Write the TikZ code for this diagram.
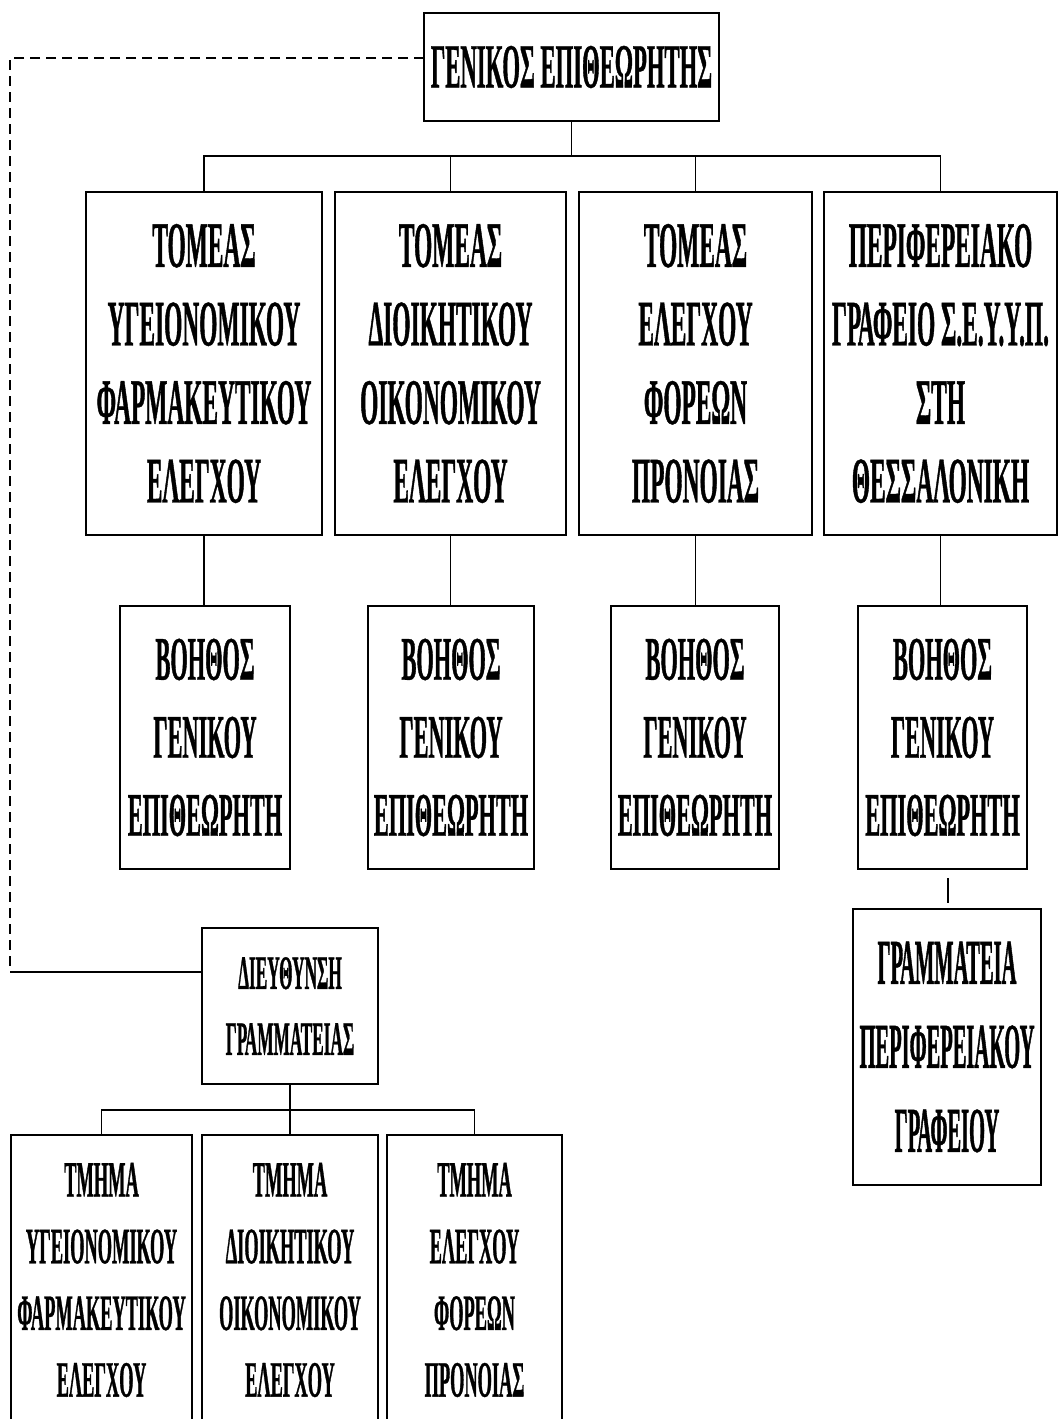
\documentclass[tikz,border=0pt]{standalone}
\usepackage{fontspec}
\newfontfamily\gfA{Liberation Serif}[UprightFont=* Bold, FakeStretch=0.36, FakeBold=0.6]
\newfontfamily\gfB{Liberation Serif}[UprightFont=* Bold, FakeStretch=0.32, FakeBold=0.6]
\begin{document}
\begin{tikzpicture}[x=1pt,y=-1pt,
  box/.style={draw, line width=1.6pt, inner sep=0pt, align=center, fill=white},
  conn/.style={line width=1.6pt},
  dashline/.style={line width=2.5pt, dash pattern=on 10pt off 6pt},
  toptext/.style={font=\gfA\fontsize{63}{75}\selectfont},
  secttext/.style={font=\gfA\fontsize{65}{78.5}\selectfont},
  deptext/.style={font=\gfA\fontsize{62}{78}\selectfont},
  grtext/.style={font=\gfB\fontsize{64}{84}\selectfont},
  dirtext/.style={font=\gfA\fontsize{48}{66}\selectfont},
  tmtext/.style={font=\gfA\fontsize{51}{66.7}\selectfont}
]
\useasboundingbox (0,0) rectangle (1059,1419);
\clip (0,0) rectangle (1059,1419);
\fill[white] (0,0) rectangle (1059,1419);

% top
\node[box, toptext, minimum width=295pt, minimum height=108pt] (top) at (571.5,67) {ΓΕΝΙΚΟΣ ΕΠΙΘΕΩΡΗΤΗΣ};

% level 2
\node[box, secttext, minimum width=236pt, minimum height=343pt] (b1) at (204,363.5) {ΤΟΜΕΑΣ\\ΥΓΕΙΟΝΟΜΙΚΟΥ\\ΦΑΡΜΑΚΕΥΤΙΚΟΥ\\ΕΛΕΓΧΟΥ};
\node[box, secttext, minimum width=231pt, minimum height=343pt] (b2) at (450.5,363.5) {ΤΟΜΕΑΣ\\ΔΙΟΙΚΗΤΙΚΟΥ\\ΟΙΚΟΝΟΜΙΚΟΥ\\ΕΛΕΓΧΟΥ};
\node[box, secttext, minimum width=233pt, minimum height=343pt] (b3) at (695.5,363.5) {ΤΟΜΕΑΣ\\ΕΛΕΓΧΟΥ\\ΦΟΡΕΩΝ\\ΠΡΟΝΟΙΑΣ};
\node[box, secttext, minimum width=233pt, minimum height=343pt] (b4) at (940.5,363.5) {ΠΕΡΙΦΕΡΕΙΑΚΟ\\ΓΡΑΦΕΙΟ Σ.Ε.Υ.Υ.Π.\\ΣΤΗ\\ΘΕΣΣΑΛΟΝΙΚΗ};

% level 3
\node[box, deptext, minimum width=170pt, minimum height=263pt] (c1) at (205,737.5) {ΒΟΗΘΟΣ\\ΓΕΝΙΚΟΥ\\ΕΠΙΘΕΩΡΗΤΗ};
\node[box, deptext, minimum width=166pt, minimum height=263pt] (c2) at (451,737.5) {ΒΟΗΘΟΣ\\ΓΕΝΙΚΟΥ\\ΕΠΙΘΕΩΡΗΤΗ};
\node[box, deptext, minimum width=168pt, minimum height=263pt] (c3) at (695,737.5) {ΒΟΗΘΟΣ\\ΓΕΝΙΚΟΥ\\ΕΠΙΘΕΩΡΗΤΗ};
\node[box, deptext, minimum width=169pt, minimum height=263pt] (c4) at (942.5,737.5) {ΒΟΗΘΟΣ\\ΓΕΝΙΚΟΥ\\ΕΠΙΘΕΩΡΗΤΗ};

% regional secretariat
\node[box, grtext, line width=1.2pt, minimum width=188pt, minimum height=276pt] (g) at (947,1047) {ΓΡΑΜΜΑΤΕΙΑ\\ΠΕΡΙΦΕΡΕΙΑΚΟΥ\\ΓΡΑΦΕΙΟΥ};

% directorate
\node[box, dirtext, minimum width=176pt, minimum height=156pt] (dir) at (290,1006) {ΔΙΕΥΘΥΝΣΗ\\ΓΡΑΜΜΑΤΕΙΑΣ};

% level 4
\node[box, tmtext, minimum width=181pt, minimum height=290pt] (e1) at (101.5,1280) {ΤΜΗΜΑ\\ΥΓΕΙΟΝΟΜΙΚΟΥ\\ΦΑΡΜΑΚΕΥΤΙΚΟΥ\\ΕΛΕΓΧΟΥ};
\node[box, tmtext, minimum width=176pt, minimum height=290pt] (e2) at (290,1280) {ΤΜΗΜΑ\\ΔΙΟΙΚΗΤΙΚΟΥ\\ΟΙΚΟΝΟΜΙΚΟΥ\\ΕΛΕΓΧΟΥ};
\node[box, tmtext, minimum width=175pt, minimum height=290pt] (e3) at (474.5,1280) {ΤΜΗΜΑ\\ΕΛΕΓΧΟΥ\\ΦΟΡΕΩΝ\\ΠΡΟΝΟΙΑΣ};

% connectors top -> level 2
\coordinate (j1) at (571.5,156);
\draw[conn] (top.south) -- (j1);
\draw[conn] (b1.north) -- (b1.north |- j1) -- (b4.north |- j1) -- (b4.north);
\draw[conn] (b2.north) -- (b2.north |- j1);
\draw[conn] (b3.north) -- (b3.north |- j1);

% level 2 -> level 3
\draw[conn] (b1.south) -- (b1.south |- c1.north);
\draw[conn] (b2.south) -- (b2.south |- c2.north);
\draw[conn] (b3.south) -- (b3.south |- c3.north);
\draw[conn] (b4.south) -- (b4.south |- c4.north);

% short stub to secretariat
\coordinate (s1) at (948,878);
\coordinate (s2) at (948,903);
\draw[conn, line width=1.4pt] (s1) -- (s2);

% dashed staff line
\coordinate (d0) at (424,58);
\coordinate (d1) at (10,58);
\coordinate (d2) at (10,972);
\draw[dashline] (d0) -- (d1) -- (d2);
\draw[conn] (d2) -- (dir.west |- d2);

% directorate -> departments
\coordinate (j2) at (290,1110);
\draw[conn] (dir.south) -- (j2);
\draw[conn] (e1.north) -- (e1.north |- j2) -- (e3.north |- j2) -- (e3.north);
\draw[conn] (e2.north) -- (e2.north |- j2);
\end{tikzpicture}
\end{document}
